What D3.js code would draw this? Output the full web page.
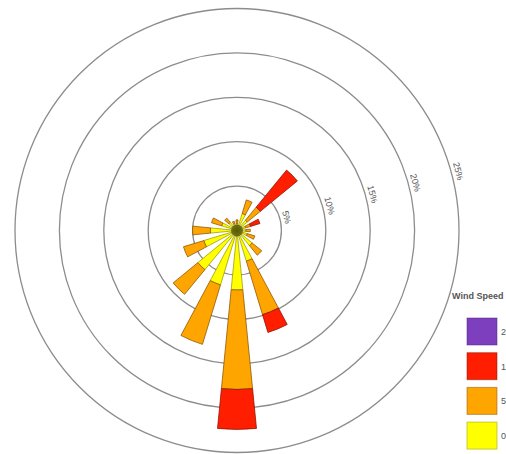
<!DOCTYPE html>
<html>
<head>
<meta charset="utf-8">
<script src="https://cdn.jsdelivr.net/npm/d3@7"></script>
<style>
  html, body { margin: 0; padding: 0; background: #fff; overflow: hidden; }
  svg { display: block; font-family: "Liberation Sans", Arial, sans-serif; }
</style>
</head>
<body>
<svg id="rose" width="506" height="454"></svg>
<script>
// Compass sectors, clockwise from north
const directions = ["N","NNE","NE","ENE","E","ESE","SE","SSE","S","SSW","SW","WSW","W","WNW","NW","NNW"];

// Frequency (% of observations) per sector for each speed class
const speed0to5   = [0.8, 2.0, 1.5, 1.0, 1.0, 1.2, 2.2, 3.6, 6.7, 6.4, 5.7, 3.9, 3.0, 1.8, 1.2, 0.8];
const speed5to10  = [0.4, 1.6, 1.9, 0.6, 0.5, 0.9, 1.4, 6.3, 11.2, 7.0, 3.6, 2.4, 2.0, 1.2, 0.6, 0.3];
const speed10to20 = [0.0, 0.0, 5.4, 1.1, 0.0, 0.0, 0.0, 2.1, 4.5, 0.0, 0.0, 0.0, 0.0, 0.0, 0.0, 0.0];
const speed20plus = [0, 0, 0, 0, 0, 0, 0, 0, 0, 0, 0, 0, 0, 0, 0, 0];

// Speed classes, innermost first
const speedLabels = ["0-5 mph", "5-10 mph", "10-20 mph", "20+ mph"];
const speedColors = ["#ffff00", "#ffa500", "#ff1e00", "#7e3fbf"];
const speedStrokes = ["#9a9a00", "#8a5200", "#8a1000", "#4a2280"];

// Ring ticks (%)
const ringTicks = [5, 10, 15, 20, 25];
const ringLabels = ["5%", "10%", "15%", "20%", "25%"];

const legendTitle = "Wind Speed";

const series = [speed0to5, speed5to10, speed10to20, speed20plus];
const rows = directions.map((dir, i) => {
  const row = { dir };
  speedLabels.forEach((k, j) => { row[k] = series[j][i]; });
  return row;
});

const svg = d3.select("#rose");
const cx = 237, cy = 230.5;
const outerR = 222;

const g = svg.append("g").attr("transform", `translate(${cx},${cy})`);

const r = d3.scaleLinear().domain([0, 25]).range([0, outerR]);

const n = directions.length;
const step = 2 * Math.PI / n;
const x = d3.scaleBand()
  .domain(directions)
  .range([-step / 2, 2 * Math.PI - step / 2])
  .paddingInner(0.5)
  .paddingOuter(0.25);

// Rings
g.append("g").selectAll("circle")
  .data(ringTicks)
  .join("circle")
  .attr("r", d => r(d))
  .attr("fill", "none")
  .attr("stroke", "#8c8c8c")
  .attr("stroke-width", 1.3);

// Stacked wedges
const stacked = d3.stack().keys(speedLabels)(rows);
const arc = d3.arc()
  .innerRadius(d => r(d[0]))
  .outerRadius(d => r(d[1]))
  .startAngle(d => x(d.data.dir))
  .endAngle(d => x(d.data.dir) + x.bandwidth());

g.append("g").selectAll("g")
  .data(stacked)
  .join("g")
  .attr("fill", (d, i) => speedColors[i])
  .attr("stroke", (d, i) => speedStrokes[i])
  .selectAll("path")
  .data(d => d.filter(s => s[1] - s[0] > 0))
  .join("path")
  .attr("d", arc)
  .attr("stroke-width", 1)
  .attr("stroke-opacity", 0.75);

// Dark hub where the wedge edges converge
g.append("circle")
  .attr("r", 6)
  .attr("fill", "#2a2a00")
  .attr("opacity", 0.55);

// Ring labels, set tangentially along a common bearing
const labelBearing = 75;
const rad = labelBearing * Math.PI / 180;
g.append("g").selectAll("text")
  .data(ringTicks)
  .join("text")
  .attr("transform", (d) => {
    const rr = r(d) + 4;
    return `translate(${rr * Math.sin(rad)},${-rr * Math.cos(rad)}) rotate(${labelBearing})`;
  })
  .attr("text-anchor", "middle")
  .attr("font-size", 9)
  .attr("fill", "#555")
  .text((d, i) => ringLabels[i]);

// Legend
const legend = svg.append("g").attr("transform", "translate(452,0)");
legend.append("text")
  .attr("x", 0)
  .attr("y", 299)
  .attr("font-size", 9)
  .attr("font-weight", "bold")
  .attr("fill", "#555")
  .text(legendTitle);

const legendOrder = d3.range(speedLabels.length).reverse();
const items = legend.selectAll("g.item")
  .data(legendOrder)
  .join("g")
  .attr("class", "item")
  .attr("transform", (d, i) => `translate(15,${318 + i * 34.7})`);

items.append("rect")
  .attr("width", 30)
  .attr("height", 27)
  .attr("fill", d => speedColors[d])
  .attr("stroke", d => speedStrokes[d])
  .attr("stroke-opacity", 0.5);

items.append("text")
  .attr("x", 34)
  .attr("y", 17)
  .attr("font-size", 9)
  .attr("fill", "#555")
  .text(d => speedLabels[d]);
</script>
</body>
</html>
